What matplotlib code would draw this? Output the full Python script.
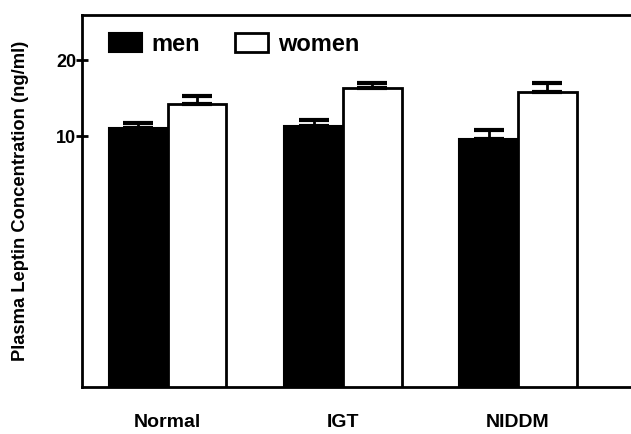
import numpy as np
import matplotlib.pyplot as plt

plt.rcParams['font.family'] = ['Liberation Sans', 'DejaVu Sans']

groups = ['Normal', 'IGT', 'NIDDM']
men = [10.8, 11.0, 9.7]
men_err = [0.5, 0.6, 0.9]
women = [13.4, 15.5, 15.0]
women_err = [1.1, 0.7, 1.2]

fig = plt.figure(figsize=(6.31, 4.34), dpi=100)
ax = fig.add_axes([0.130, 0.108, 0.870, 0.857])

x = np.arange(len(groups))
w = 0.335
ekw = dict(elinewidth=2, capthick=3, ecolor='black')
ax.bar(x - w / 2, men, w, color='black', edgecolor='black', linewidth=1.5,
       yerr=[np.zeros(3), men_err], capsize=11, error_kw=ekw, label='men')
ax.bar(x + w / 2, women, w, color='white', edgecolor='black', linewidth=2,
       yerr=[np.zeros(3), women_err], capsize=11, error_kw=ekw, label='women')

ax.set_yscale('log')
ax.set_ylim(1, 30.3)
ax.set_xlim(-0.49, 2.646)
ax.set_yticks([10, 20])
ax.set_yticklabels(['10', '20'])
ax.yaxis.set_minor_locator(plt.NullLocator())
ax.tick_params(axis='y', direction='inout', length=8, width=2, labelsize=13, pad=0)
for t in ax.get_yticklabels():
    t.set_fontweight('bold')

ax.set_xticks(x)
ax.set_xticklabels(groups, fontsize=14, fontweight='bold')
ax.tick_params(axis='x', length=0, pad=19)

ax.spines['right'].set_visible(False)
for s in ['left', 'top', 'bottom']:
    ax.spines[s].set_linewidth(2)

ax.set_ylabel('Plasma Leptin Concentration (ng/ml)', fontsize=13.2,
              fontweight='bold', labelpad=20)

ax.legend(loc='upper left', bbox_to_anchor=(0.01, 1.01), ncol=2, frameon=False,
          prop={'size': 17, 'weight': 'bold'}, handlelength=1.4,
          handleheight=0.8, handletextpad=0.4, columnspacing=1.5)

plt.savefig('out.png', dpi=100)
